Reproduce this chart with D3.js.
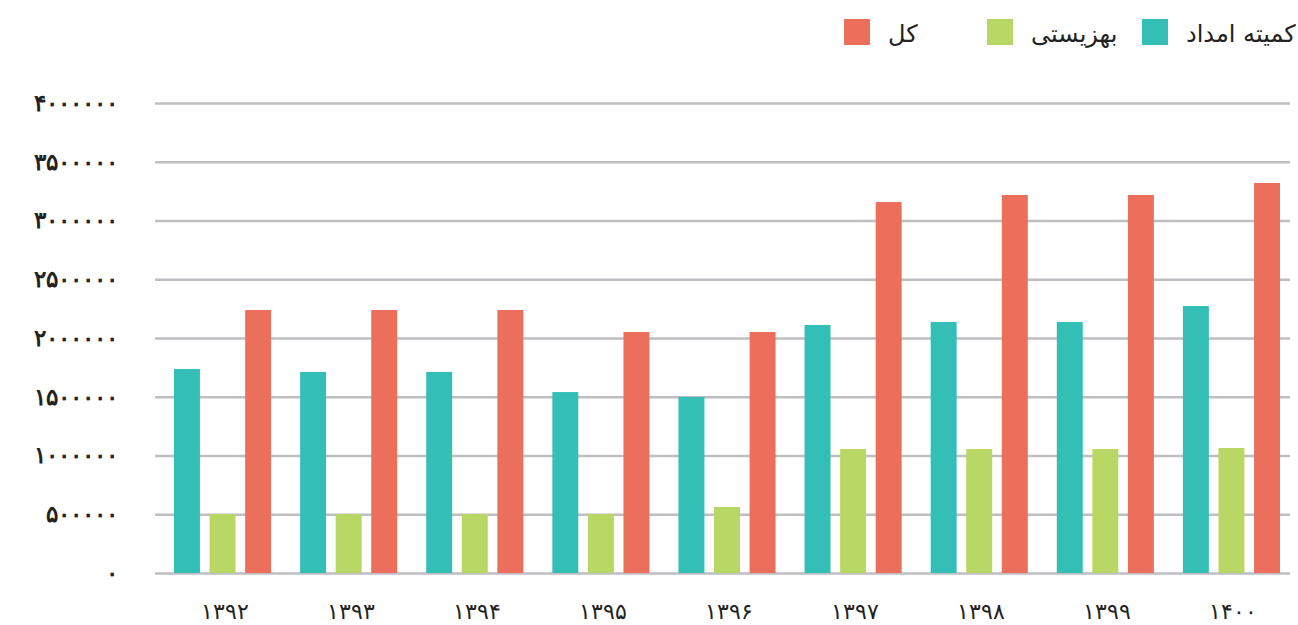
<!DOCTYPE html>
<html>
<head>
<meta charset="utf-8">
<script src="https://cdn.jsdelivr.net/npm/d3@7"></script>
<style>
  body { margin: 0; background: #fff; }
  svg { display: block; font-family: "DejaVu Sans", sans-serif; }
</style>
</head>
<body>
<div id="chart"></div>
<script>
const width = 1298;
const height = 625;

// data
const years = ["۱۳۹۲", "۱۳۹۳", "۱۳۹۴", "۱۳۹۵", "۱۳۹۶", "۱۳۹۷", "۱۳۹۸", "۱۳۹۹", "۱۴۰۰"];
const emdad = [1736000, 1711000, 1711000, 1540000, 1498000, 2111000, 2136000, 2136000, 2272000];
const behzisti = [502000, 502000, 502000, 502000, 562000, 1055000, 1055000, 1055000, 1064000];
const kol = [2238000, 2238000, 2238000, 2051000, 2051000, 3157000, 3217000, 3217000, 3319000];
const yTicks = [0, 500000, 1000000, 1500000, 2000000, 2500000, 3000000, 3500000, 4000000];

const seriesKeys = ["emdad", "behzisti", "kol"];
const seriesNames = ["کمیته امداد", "بهزیستی", "کل"];
const colors = ["#33bfb6", "#b9d765", "#ec6f5b"];

const toPersian = (n) => String(n).replace(/\d/g, c => "۰۱۲۳۴۵۶۷۸۹"[c]);

const rows = years.map((yr, i) => ({ year: yr, emdad: emdad[i], behzisti: behzisti[i], kol: kol[i] }));

const plotLeft = 155;
const plotRight = 1290;

const svg = d3.select("#chart")
    .append("svg")
    .attr("width", width)
    .attr("height", height);

const y = d3.scaleLinear()
    .domain([0, 4000000])
    .range([573, 103]);

const x0 = d3.scaleBand()
    .domain(years)
    .range([174, 1280])
    .paddingInner(0.23)
    .paddingOuter(0);

const x1 = d3.scaleBand()
    .domain(seriesKeys)
    .range([0, x0.bandwidth()])
    .paddingInner(0.27);

const color = d3.scaleOrdinal().domain(seriesKeys).range(colors);

// grid + y labels
const gYAxis = svg.append("g")
    .attr("transform", `translate(${plotLeft}, 0)`)
    .call(d3.axisLeft(y)
        .tickValues(yTicks)
        .tickSize(-(plotRight - plotLeft))
        .tickPadding(37)
        .tickFormat(toPersian));

gYAxis.select(".domain").remove();
gYAxis.selectAll("line")
    .attr("stroke", "#bebec3")
    .attr("stroke-width", 2.5);
gYAxis.selectAll("text")
    .attr("fill", "#222")
    .style("font-size", "23px")
    .style("font-weight", "bold")
    .style("letter-spacing", "14px");

// bars
const groups = svg.append("g")
    .selectAll("g")
    .data(rows)
    .enter()
    .append("g")
    .attr("transform", d => `translate(${x0(d.year)}, 0)`);

groups.selectAll("rect")
    .data(d => seriesKeys.map(k => ({ key: k, value: d[k] })))
    .enter()
    .append("rect")
    .attr("x", d => x1(d.key))
    .attr("y", d => y(d.value))
    .attr("width", x1.bandwidth())
    .attr("height", d => y(0) - y(d.value))
    .attr("fill", d => color(d.key));

// x labels
const gXAxis = svg.append("g")
    .attr("transform", `translate(0, ${y(0)})`)
    .call(d3.axisBottom(x0).tickSize(0).tickPadding(30));

gXAxis.select(".domain").remove();
gXAxis.selectAll("text")
    .attr("fill", "#222")
    .attr("dx", "2px")
    .style("font-size", "22px")
    .style("letter-spacing", "4px");

// legend
const legendX = [1142, 987, 844];
const legend = svg.append("g")
    .selectAll("g")
    .data(seriesKeys)
    .enter()
    .append("g")
    .attr("transform", (d, i) => `translate(${legendX[i]}, 19)`);

legend.append("rect")
    .attr("width", 26)
    .attr("height", 26)
    .attr("fill", d => color(d));

legend.append("text")
    .attr("x", 44)
    .attr("y", 23)
    .attr("fill", "#222")
    .style("font-size", "24px")
    .text((d, i) => seriesNames[i]);
</script>
</body>
</html>
